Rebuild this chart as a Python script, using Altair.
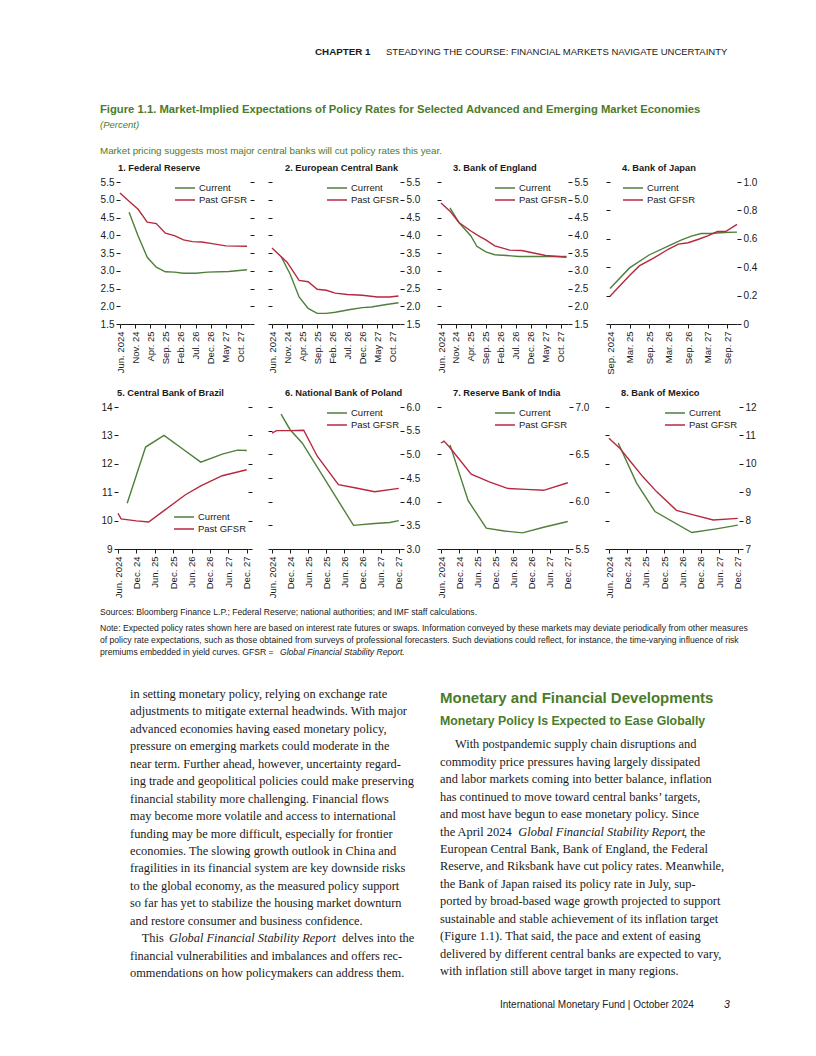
import json
import altair as alt
import pandas as pd

# ---------------- colours & fonts ----------------
GREEN = "#4f7f3b"
RED = "#b6293f"
HEAD_GREEN = "#4a7c2a"
INK = "#1a1a1a"
COND = "Liberation Sans Narrow, Arial Narrow, sans-serif"
SERIF = "Liberation Serif, DejaVu Serif, serif"

# ---------------- data ----------------
series_names = ["Current", "Past GFSR"]

row1_ticks = ["Jun. 2024", "Nov. 24", "Apr. 25", "Sep. 25", "Feb. 26", "Jul. 26", "Dec. 26", "May 27", "Oct. 27"]
boj_ticks = ["Sep. 2024", "Mar. 25", "Sep. 25", "Mar. 26", "Sep. 26", "Mar. 27", "Sep. 27"]
row2_ticks = ["Jun. 2024", "Dec. 24", "Jun. 25", "Dec. 25", "Jun. 26", "Dec. 26", "Jun. 27", "Dec. 27"]

# months counted from the first tick label of each panel
fed_cur_m = [3, 6, 9, 12, 15, 18, 21, 25, 29, 36, 42]
fed_cur_v = [4.65, 3.98, 3.38, 3.10, 2.97, 2.96, 2.93, 2.93, 2.96, 2.98, 3.03]
fed_past_m = [0, 3, 6, 9, 12, 15, 18, 21, 24, 27, 30, 35, 42]
fed_past_v = [5.19, 4.96, 4.73, 4.37, 4.33, 4.06, 3.99, 3.87, 3.82, 3.81, 3.77, 3.70, 3.69]
fed_yticks = [1.5, 2.0, 2.5, 3.0, 3.5, 4.0, 4.5, 5.0, 5.5]

ecb_cur_m = [3, 6, 9, 12, 15, 18, 21, 26, 30, 33, 38, 42]
ecb_cur_v = [3.40, 2.91, 2.26, 1.94, 1.80, 1.80, 1.83, 1.91, 1.96, 1.98, 2.05, 2.10]
ecb_past_m = [0, 5, 9, 12, 15, 18, 21, 25, 30, 35, 39, 42]
ecb_past_v = [3.64, 3.24, 2.73, 2.69, 2.48, 2.45, 2.37, 2.33, 2.31, 2.26, 2.26, 2.29]

boe_cur_m = [3, 6, 10, 12, 15, 18, 22, 26, 33, 38, 42]
boe_cur_v = [4.77, 4.36, 3.98, 3.69, 3.53, 3.45, 3.43, 3.40, 3.40, 3.40, 3.40]
boe_past_m = [0, 3, 6, 10, 13, 15, 18, 23, 27, 31, 35, 38, 42]
boe_past_v = [4.91, 4.68, 4.36, 4.12, 3.96, 3.87, 3.70, 3.58, 3.57, 3.50, 3.43, 3.41, 3.38]

boj_cur_m = [0, 6, 12, 18, 22, 25, 28, 31, 35, 39]
boj_cur_v = [0.25, 0.395, 0.486, 0.551, 0.593, 0.619, 0.637, 0.637, 0.644, 0.647]
boj_past_m = [0, 6, 9, 13.5, 18, 21, 24, 27, 30, 33, 35.5, 39]
boj_past_v = [0.195, 0.342, 0.409, 0.465, 0.528, 0.563, 0.572, 0.595, 0.621, 0.651, 0.651, 0.702]
boj_yticks = [0, 0.2, 0.4, 0.6, 0.8, 1.0]

bra_cur_m = [3, 9, 15, 21, 27, 34, 39, 42]
bra_cur_v = [10.61, 12.59, 13.0, 12.53, 12.06, 12.34, 12.48, 12.47]
bra_past_m = [0, 1, 6, 10, 15, 22, 27, 34, 42]
bra_past_v = [10.26, 10.06, 9.99, 9.95, 10.35, 10.91, 11.22, 11.58, 11.79]
bra_yticks = [9, 10, 11, 12, 13, 14]

pol_cur_m = [3, 6, 10, 27, 34, 39, 42]
pol_cur_v = [5.85, 5.52, 5.24, 3.50, 3.54, 3.56, 3.60]
pol_past_m = [0, 1.5, 6, 10.5, 15, 22, 27, 34, 42]
pol_past_v = [5.45, 5.50, 5.50, 5.51, 4.96, 4.36, 4.30, 4.21, 4.28]
pol_yticks = [3.0, 3.5, 4.0, 4.5, 5.0, 5.5, 6.0]

ind_cur_m = [3, 9, 15, 21, 27, 34, 42]
ind_cur_v = [6.60, 6.01, 5.72, 5.69, 5.67, 5.73, 5.79]
ind_past_m = [0, 1, 3, 10, 16, 22, 28, 34, 42]
ind_past_v = [6.62, 6.64, 6.57, 6.29, 6.21, 6.14, 6.13, 6.12, 6.20]
ind_yticks = [5.5, 6.0, 6.5, 7.0]

mex_cur_m = [3, 9, 15, 27, 35, 42]
mex_cur_v = [10.73, 9.32, 8.32, 7.58, 7.71, 7.84]
mex_past_m = [0, 3.5, 7, 11, 15.5, 22, 27.5, 34, 42]
mex_past_v = [10.90, 10.55, 10.08, 9.55, 9.02, 8.36, 8.20, 8.02, 8.08]
mex_yticks = [7, 8, 9, 10, 11, 12]

# ---------------- page texts ----------------
header_bold = "CHAPTER 1"
header_rest = "STEADYING THE COURSE: FINANCIAL MARKETS NAVIGATE UNCERTAINTY"
fig_title = "Figure 1.1. Market-Implied Expectations of Policy Rates for Selected Advanced and Emerging Market Economies"
fig_unit = "(Percent)"
fig_caption = "Market pricing suggests most major central banks will cut policy rates this year."
panel_titles = ["1. Federal Reserve", "2. European Central Bank", "3. Bank of England", "4. Bank of Japan",
                "5. Central Bank of Brazil", "6. National Bank of Poland", "7. Reserve Bank of India", "8. Bank of Mexico"]
sources_line = "Sources: Bloomberg Finance L.P.; Federal Reserve; national authorities; and IMF staff calculations."
note_lines = [
    "Note: Expected policy rates shown here are based on interest rate futures or swaps. Information conveyed by these markets may deviate periodically from other measures",
    "of policy rate expectations, such as those obtained from surveys of professional forecasters. Such deviations could reflect, for instance, the time-varying influence of risk",
    "premiums embedded in yield curves.  GFSR = ",
]
note_italic = "Global Financial Stability Report."
left_lines = [
    "in setting monetary policy, relying on exchange rate",
    "adjustments to mitigate external headwinds. With major",
    "advanced economies having eased monetary policy,",
    "pressure on emerging markets could moderate in the",
    "near term. Further ahead, however, uncertainty regard-",
    "ing trade and geopolitical policies could make preserving",
    "financial stability more challenging. Financial flows",
    "may become more volatile and access to international",
    "funding may be more difficult, especially for frontier",
    "economies. The slowing growth outlook in China and",
    "fragilities in its financial system are key downside risks",
    "to the global economy, as the measured policy support",
    "so far has yet to stabilize the housing market downturn",
    "and restore consumer and business confidence.",
    "",
    "financial vulnerabilities and imbalances and offers rec-",
    "ommendations on how policymakers can address them.",
]
left_l15 = ["This ", "Global Financial Stability Report", "delves into the"]
right_head1 = "Monetary and Financial Developments"
right_head2 = "Monetary Policy Is Expected to Ease Globally"
right_lines = [
    "",
    "commodity price pressures having largely dissipated",
    "and labor markets coming into better balance, inflation",
    "has continued to move toward central banks\u2019 targets,",
    "and most have begun to ease monetary policy. Since",
    "",
    "European Central Bank, Bank of England, the Federal",
    "Reserve, and Riksbank have cut policy rates. Meanwhile,",
    "the Bank of Japan raised its policy rate in July, sup-",
    "ported by broad-based wage growth projected to support",
    "sustainable and stable achievement of its inflation target",
    "(Figure 1.1). That said, the pace and extent of easing",
    "delivered by different central banks are expected to vary,",
    "with inflation still above target in many regions.",
]
right_l1 = "With postpandemic supply chain disruptions and"
right_l6 = ["the April 2024 ", "Global Financial Stability Report", ", the"]
footer_text = "International Monetary Fund | October 2024"
page_no = "3"

BODY_FS = 12.4


# ---------------- helpers ----------------
def one_text(txt, x, y, **mk):
    props = dict(align="left", baseline="middle", font=COND, fontSize=10, color=INK)
    props.update(mk)
    return alt.Chart(pd.DataFrame({"t": [txt]})).mark_text(**props).encode(
        x=alt.value(x), y=alt.value(y), text="t:N")


def block_text(lines, x, y0, dy, **mk):
    props = dict(align="left", baseline="middle", font=SERIF, fontSize=BODY_FS, color=INK)
    props.update(mk)
    df = pd.DataFrame({"t": lines, "i": list(range(len(lines)))})
    return alt.Chart(df).mark_text(**props).encode(
        x=alt.value(x),
        y=alt.Y("i:Q", scale=alt.Scale(domain=[0, 1], range=[y0, y0 + dy]), axis=None),
        text="t:N")


def frame(w, h):
    # invisible rectangle fixing the extent of a block
    return alt.Chart(pd.DataFrame({"a": [0]})).mark_rect(opacity=0).encode(
        x=alt.value(0), x2=alt.value(w), y=alt.value(0), y2=alt.value(h))


def spacer(w, h):
    return frame(w, h).properties(width=w, height=h)


PANEL_H = 142


def panel(title, cur_m, cur_v, past_m, past_v, ticks, step, xmax, yticks, yfmt,
          width, side, leg_xy, title_dx):
    df = pd.DataFrame({
        "m": cur_m + past_m,
        "v": cur_v + past_v,
        "s": [series_names[0]] * len(cur_m) + [series_names[1]] * len(past_m),
    })
    tick_vals = [i * step for i in range(len(ticks))]
    label_expr = json.dumps(ticks) + "[round(datum.value / %d)]" % step
    x = alt.X("m:Q", scale=alt.Scale(domain=[0, xmax], nice=False, zero=False),
              axis=alt.Axis(values=tick_vals, labelExpr=label_expr, title=None, labelAngle=270,
                            labelAlign="right", labelBaseline="middle", grid=False,
                            domainColor=INK, tickColor=INK, tickSize=4, labelPadding=3,
                            labelFontSize=9.5, labelFont=COND, labelColor=INK))
    yscale = alt.Scale(domain=[yticks[0], yticks[-1]], nice=False, zero=False)
    other = "left" if side == "right" else "right"
    common = dict(values=yticks, grid=False, domain=False, tickSize=4, tickColor=INK, title=None)
    ax_lab = alt.Axis(orient=side, labelExpr=yfmt, labelFont=COND, labelFontSize=10,
                      labelColor=INK, labelPadding=2, **common)
    ax_unlab = alt.Axis(orient=other, labels=False, **common)
    lines = alt.Chart(df).mark_line(strokeWidth=1.4).encode(
        x=x,
        y=alt.Y("v:Q", scale=yscale, axis=ax_lab),
        color=alt.Color("s:N", scale=alt.Scale(domain=series_names, range=[GREEN, RED]),
                        legend=alt.Legend(title=None, orient="none", legendX=leg_xy[0], legendY=leg_xy[1],
                                          symbolType="M-2,0H2", symbolSize=100, symbolStrokeWidth=1.5,
                                          labelFont=COND, labelFontSize=9.5, labelColor=INK,
                                          rowPadding=1, labelOffset=8, padding=0)),
    )
    ghost = alt.Chart(df).mark_line(opacity=0).encode(
        x=x, y=alt.Y("v:Q", scale=yscale, axis=ax_unlab), detail="s:N")
    return alt.layer(lines, ghost).resolve_axis(y="independent").properties(
        width=width, height=PANEL_H,
        title=alt.TitleParams(title, anchor="start", frame="group", dx=title_dx, offset=4,
                              font=COND, fontSize=9.3, fontWeight="bold", color=INK))


F1 = "format(datum.value, '.1f')"
F0 = "format(datum.value, 'd')"
FJ = "datum.value == 0 ? '0' : format(datum.value, '.1f')"

p1 = panel(panel_titles[0], fed_cur_m, fed_cur_v, fed_past_m, fed_past_v, row1_ticks, 5, 43,
           fed_yticks, F1, 130, "left", (59, 0), -2)
p2 = panel(panel_titles[1], ecb_cur_m, ecb_cur_v, ecb_past_m, ecb_past_v, row1_ticks, 5, 42.5,
           fed_yticks, F1, 128, "right", (59, 0), 13)
p3 = panel(panel_titles[2], boe_cur_m, boe_cur_v, boe_past_m, boe_past_v, row1_ticks, 5, 42.5,
           fed_yticks, F1, 127, "right", (58, 0), 12)
p4 = panel(panel_titles[3], boj_cur_m, boj_cur_v, boj_past_m, boj_past_v, boj_ticks, 6, 39,
           boj_yticks, FJ, 127, "right", (17, 0), 12)
p5 = panel(panel_titles[4], bra_cur_m, bra_cur_v, bra_past_m, bra_past_v, row2_ticks, 6, 42.4,
           bra_yticks, F0, 130, "left", (60, 104), -1)
p6 = panel(panel_titles[5], pol_cur_m, pol_cur_v, pol_past_m, pol_past_v, row2_ticks, 6, 42.4,
           pol_yticks, F1, 128, "right", (59, 0), 13)
p7 = panel(panel_titles[6], ind_cur_m, ind_cur_v, ind_past_m, ind_past_v, row2_ticks, 6, 42.4,
           ind_yticks, F1, 128, "right", (58, 0), 12)
p8 = panel(panel_titles[7], mex_cur_m, mex_cur_v, mex_past_m, mex_past_v, row2_ticks, 6, 42.4,
           mex_yticks, F0, 130, "right", (60, 0), 12)

row1 = alt.hconcat(spacer(112, PANEL_H), p1, spacer(22, PANEL_H), p2, spacer(41, PANEL_H), p3,
                   spacer(42, PANEL_H), p4, spacing=0, bounds="flush").resolve_scale(color="independent")
row2 = alt.hconcat(spacer(110, PANEL_H), p5, spacer(24, PANEL_H), p6, spacer(41, PANEL_H), p7,
                   spacer(40, PANEL_H), p8, spacing=0, bounds="flush").resolve_scale(color="independent")

# ---------------- top text block ----------------
TOP_H = 155
top = alt.layer(
    frame(800, TOP_H),
    one_text(header_bold, 307, 44, fontSize=9.8, fontWeight="bold"),
    one_text(header_rest, 378, 44, fontSize=9.5),
    one_text(fig_title, 92, 102, fontSize=11.25, fontWeight="bold", color=HEAD_GREEN),
    one_text(fig_unit, 92, 117, fontSize=9.5, fontStyle="italic", color=HEAD_GREEN),
    one_text(fig_caption, 92, 143, fontSize=9.8, color=HEAD_GREEN),
).properties(width=800, height=TOP_H)

# ---------------- bottom text block ----------------
BOT_H = 420
LY0, DY = 96.0, 17.44
RY0 = 146.3
bottom = alt.layer(
    frame(800, BOT_H),
    one_text(sources_line, 92, 14, fontSize=8.6),
    block_text(note_lines, 92, 30, 12, font=COND, fontSize=8.6),
    one_text(note_italic, 272, 54, fontSize=8.6, fontStyle="italic"),
    block_text(left_lines, 122, LY0, DY),
    one_text(left_l15[0], 133.7, LY0 + 14 * DY, font=SERIF, fontSize=BODY_FS),
    one_text(left_l15[1], 161, LY0 + 14 * DY, font=SERIF, fontSize=BODY_FS, fontStyle="italic"),
    one_text(left_l15[2], 334, LY0 + 14 * DY, font=SERIF, fontSize=BODY_FS),
    one_text(right_head1, 432, 100, fontSize=15, fontWeight="bold", color=HEAD_GREEN),
    one_text(right_head2, 432, 123, fontSize=12.3, fontWeight="bold", color=HEAD_GREEN),
    one_text(right_l1, 447, RY0, font=SERIF, fontSize=BODY_FS),
    block_text(right_lines, 432, RY0, DY),
    one_text(right_l6[0], 432, RY0 + 5 * DY, font=SERIF, fontSize=BODY_FS),
    one_text(right_l6[1], 510.3, RY0 + 5 * DY, font=SERIF, fontSize=BODY_FS, fontStyle="italic"),
    one_text(right_l6[2], 676, RY0 + 5 * DY, font=SERIF, fontSize=BODY_FS),
    one_text(footer_text, 492, 407, fontSize=10),
    one_text(page_no, 716, 407, fontSize=10.5, fontStyle="italic"),
).resolve_scale(y="independent").properties(width=800, height=BOT_H)

chart = alt.vconcat(top, row1, spacer(800, 13), row2, bottom, spacing=0, bounds="full").resolve_scale(
    color="independent").properties(padding=0).configure_view(stroke=None)

chart.save("out.html", embed_options={"renderer": "svg", "actions": False})
